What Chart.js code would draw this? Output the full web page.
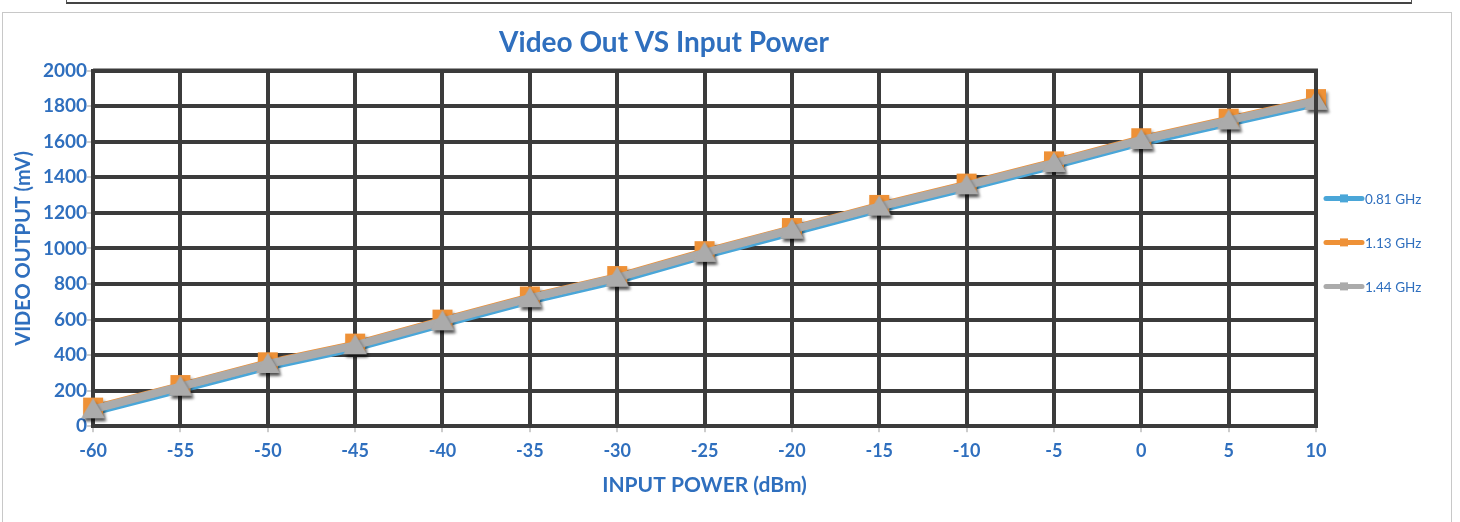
<!DOCTYPE html>
<html>
<head>
<meta charset="utf-8">
<script src="https://cdn.jsdelivr.net/npm/chart.js@4.4.1/dist/chart.umd.min.js"></script>
<style>
  html, body { margin: 0; padding: 0; background: #ffffff; }
  body { width: 1460px; height: 522px; position: relative; overflow: hidden; }
  #topbox { position: absolute; left: 66px; top: -6px; width: 1344px; height: 8px; border: 1px solid #555; border-top: none; border-bottom: 2px solid #444; }
  #frame { position: absolute; left: 2px; top: 12px; width: 1450px; height: 512px; border: 1px solid #c8c8c8; box-sizing: border-box; }
  #c { position: absolute; left: 0; top: 0; }
</style>
</head>
<body>
<div id="topbox"></div>
<div id="frame"><canvas id="c" width="1448" height="510"></canvas></div>
<script>
// ---- data ----
const inputPower = ["-60","-55","-50","-45","-40","-35","-30","-25","-20","-15","-10","-5","0","5","10"];
const ghz081 = [67, 194, 322, 427, 562, 692, 807, 947, 1077, 1207, 1327, 1452, 1582, 1692, 1802];
const ghz113 = [99, 226, 354, 459, 594, 724, 839, 979, 1109, 1239, 1359, 1484, 1614, 1724, 1834];
const ghz144 = [95, 222, 350, 455, 590, 720, 835, 975, 1105, 1235, 1355, 1480, 1610, 1720, 1830];
const seriesNames = ["0.81 GHz", "1.13 GHz", "1.44 GHz"];
const yTicks = [0, 200, 400, 600, 800, 1000, 1200, 1400, 1600, 1800, 2000];

const BLUE_TXT = '#2f6fbe';
const GRID = '#3b3b3b';
const FONT = 'Lato, "Open Sans", sans-serif';
const C_BLUE = '#4aa6d8', C_ORANGE = '#ee9137', C_GRAY = '#ababab';

// marker images with a soft drop shadow
function markerImage(shape, color) {
  const cv = document.createElement('canvas');
  cv.width = 34; cv.height = 34;
  const g = cv.getContext('2d');
  g.shadowColor = 'rgba(0,0,0,0.45)';
  g.shadowBlur = 3;
  g.shadowOffsetX = 2;
  g.shadowOffsetY = 3;
  g.fillStyle = color;
  g.beginPath();
  if (shape === 'triangle') {
    g.moveTo(17, 6); g.lineTo(29, 26); g.lineTo(5, 26); g.closePath();
  } else {
    g.rect(7, 6, 20, 20);
  }
  g.fill();
  return cv;
}
const triImg = markerImage('triangle', C_GRAY);
const sqImg = markerImage('square', C_ORANGE);

const sideLegend = {
  id: 'sideLegend',
  afterDraw(chart) {
    const { ctx, chartArea: a } = chart;
    const x0 = a.right + 10;
    const yMid = (a.top + a.bottom) / 2;
    const gap = 44;
    ctx.save();
    chart.data.datasets.forEach((ds, i) => {
      const y = yMid + (i - 1) * gap - 6;
      ctx.strokeStyle = ds.borderColor;
      ctx.lineCap = 'round';
      ctx.lineWidth = 5;
      ctx.beginPath(); ctx.moveTo(x0, y); ctx.lineTo(x0 + 36, y); ctx.stroke();
      ctx.fillStyle = ds.borderColor;
      ctx.fillRect(x0 + 14, y - 4, 8, 8);
      ctx.fillStyle = BLUE_TXT;
      ctx.font = '13.5px ' + FONT;
      ctx.textBaseline = 'middle';
      ctx.textAlign = 'left';
      ctx.fillText(ds.label, x0 + 39, y + 1);
    });
    ctx.restore();
  }
};

new Chart(document.getElementById('c'), {
  type: 'line',
  data: {
    labels: inputPower,
    datasets: [
      { label: seriesNames[0], data: ghz081, borderColor: C_BLUE, backgroundColor: C_BLUE,
        borderWidth: 3, pointRadius: 0, order: 2 },
      { label: seriesNames[1], data: ghz113, borderColor: C_ORANGE, backgroundColor: C_ORANGE,
        borderWidth: 8, pointStyle: sqImg, pointRadius: 13, order: 1 },
      { label: seriesNames[2], data: ghz144, borderColor: C_GRAY, backgroundColor: C_GRAY,
        borderWidth: 8, pointStyle: triImg, pointRadius: 12, order: 0 }
    ]
  },
  options: {
    responsive: false,
    animation: false,
    devicePixelRatio: 1,
    layout: { padding: { left: 9, right: 135, top: 0, bottom: 19 } },
    elements: { line: { tension: 0 } },
    plugins: {
      title: {
        display: true,
        text: 'Video Out VS Input Power',
        color: BLUE_TXT,
        font: { family: FONT, size: 28, weight: 'bold' },
        padding: { top: 13, bottom: 11 }
      },
      legend: { display: false },
      tooltip: { enabled: false }
    },
    scales: {
      x: {
        type: 'category',
        offset: false,
        grid: { color: GRID, lineWidth: 4, tickLength: 6, drawTicks: true, tickColor: '#999', tickWidth: 1 },
        border: { color: GRID, width: 4 },
        ticks: { color: BLUE_TXT, font: { family: FONT, size: 18, weight: 'bold' }, padding: 8, maxRotation: 0, autoSkip: false },
        title: { display: true, text: 'INPUT POWER (dBm)', color: BLUE_TXT,
                 font: { family: FONT, size: 21, weight: 'bold' }, padding: { top: 3, bottom: 6 } }
      },
      y: {
        min: 0, max: 2000,
        afterBuildTicks: (axis) => { axis.ticks = yTicks.map(v => ({ value: v })); },
        grid: { color: GRID, lineWidth: 4, tickLength: 6, tickColor: '#999', tickWidth: 1 },
        border: { color: GRID, width: 4 },
        ticks: { color: BLUE_TXT, font: { family: FONT, size: 19, weight: 'bold' }, padding: 0,
                 callback: (v) => String(v) },
        title: { display: true, text: 'VIDEO OUTPUT (mV)', color: BLUE_TXT,
                 font: { family: FONT, size: 20, weight: 'bold' }, padding: { top: 0, bottom: 7 } }
      }
    }
  },
  plugins: [sideLegend, {
    id: 'topRightBorder',
    afterDraw(chart) {
      const { ctx, chartArea: a } = chart;
      ctx.save();
      ctx.strokeStyle = GRID;
      ctx.lineWidth = 4;
      ctx.beginPath();
      ctx.moveTo(a.left, a.top); ctx.lineTo(a.right, a.top); ctx.lineTo(a.right, a.bottom);
      ctx.stroke();
      ctx.restore();
    }
  }]
});
</script>
</body>
</html>
